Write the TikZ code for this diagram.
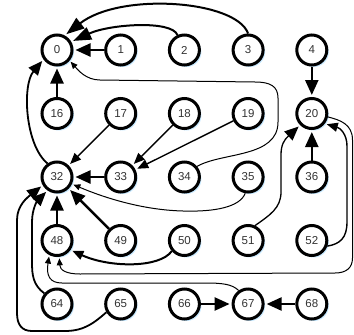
\documentclass[tikz,border=0pt]{standalone}
\usepackage{fontspec}
\setmainfont{Liberation Sans}
\usetikzlibrary{arrows.meta,shadows}
\begin{document}
\begin{tikzpicture}[x=1pt,y=-1pt,
  vtx/.style={circle, draw=black, line width=3pt, fill=white,
    minimum size=30pt, inner sep=0pt,
    font=\fontsize{11.5}{11.5}\selectfont, text=black!80,
    drop shadow={shadow xshift=2pt, shadow yshift=-2pt,
      fill=blue!40!cyan!55!white, opacity=0.4}},
  arrbig/.style={line width=2.4pt, -{Triangle[length=15pt,width=13pt]}, shorten >=2pt},
  arrtop/.style={line width=2pt, -{Triangle[length=18pt,width=13pt]}, shorten >=2pt},
  arrcurve/.style={line width=1.8pt, -{Triangle[length=14pt,width=12pt]}, shorten >=2pt},
  arrmid/.style={line width=1.4pt, -{Triangle[length=11pt,width=9pt]}, shorten >=2pt},
  arrsmall/.style={line width=1pt, -{Triangle[length=7pt,width=6pt]}, shorten >=1.5pt},
]
\useasboundingbox (0,0) rectangle (354,335);

% 5 x 5 grid of vertices, labelled 16*row + column
\foreach \r in {0,...,4}{
  \foreach \c in {0,...,4}{
    \pgfmathtruncatemacro{\lbl}{16*\r+\c}
    \node[vtx] (n\lbl) at (57+63.7*\c, 50+63.5*\r) {\lbl};
  }
}

% straight edges
\draw[arrbig] (n1) -- (n0);
\draw[arrbig] (n16) -- (n0);
\draw[arrbig] (n4) -- (n20);
\draw[arrbig] (n36) -- (n20);
\draw[arrbig] (n33) -- (n32);
\draw[arrbig] (n48) -- (n32);
\draw[arrbig] (n49) -- (n32);
\draw[arrbig] (n66) -- (n67);
\draw[arrbig] (n68) -- (n67);
\draw[arrmid] (n17) -- (n32);
\draw[arrmid] (n18) -- (n33);
\draw[arrmid] (n19) -- (n33);

% arcs over the top row
\draw[arrtop] (n2.115) .. controls (172,20) and (110,24) .. (n0.30);
\draw[arrtop] (n3.north) .. controls (236,0) and (120,-8) .. (n0.62);

% left-hand loops
\draw[arrcurve] (n32.125) .. controls (25,145) and (22,85) .. (n0.215);
\draw[arrcurve] (n64.140) .. controls (33,285) and (32,275) .. (32,262)
  -- (32,222) .. controls (32,208) and (38,200) .. (n32.235);
\draw[arrcurve] (n65.210) .. controls (95,322) and (85,331) .. (65,331)
  -- (32,331) .. controls (22,331) and (17,325) .. (17,313)
  -- (17,220) .. controls (17,205) and (28,197) .. (n32.210);

% long thin routes
\draw[arrsmall] (n34.40) .. controls (222,152) and (278,158) .. (278,122)
  -- (278,98) .. controls (278,86) and (270,82) .. (255,82)
  -- (100,80) .. controls (86,80) and (78,70) .. (n0.-40);
\draw[arrsmall] (n35.-100) .. controls (240,207) and (215,212) .. (183,211)
  .. controls (140,210) and (100,196) .. (n32.-25);
\draw[arrsmall] (n20.-12) .. controls (340,120) and (352.5,124) .. (352.5,140)
  -- (352.5,258) .. controls (352.5,268) and (346,273) .. (335,273)
  -- (80,274) .. controls (66,274) and (60,270) .. (n48.-82);
\draw[arrsmall] (n67.125) .. controls (232,284) and (222,283) .. (205,283)
  -- (62,283) .. controls (50,283) and (46,276) .. (n48.-118);

% bottom-right feeds into 20 and 48
\draw[arrmid, line width=2pt] (n50.220) .. controls (160,268) and (110,268) .. (n48.-35);
\draw[arrcurve, line width=1.3pt] (n51.65) .. controls (270,215) and (281,208) .. (281,192)
  -- (281,155) .. controls (281,145) and (284,140) .. (n20.225);
\draw[arrmid] (n52.-20) .. controls (340,244) and (347,238) .. (347,222)
  -- (347,146) .. controls (347,134) and (340,128) .. (n20.-38);
\end{tikzpicture}
\end{document}
